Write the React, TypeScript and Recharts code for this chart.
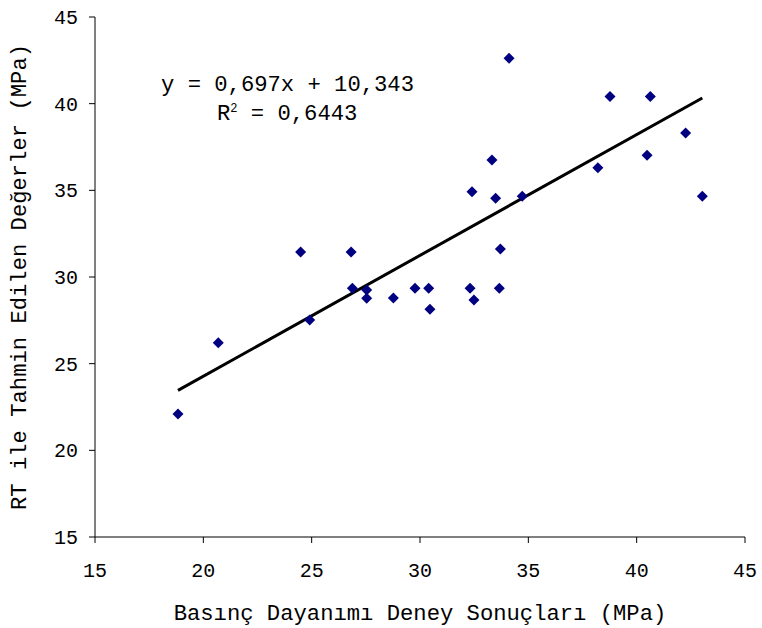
import React from "react";
import {
  ScatterChart,
  Scatter,
  XAxis,
  YAxis,
  ReferenceLine,
  Label,
} from "recharts";

// Measured values (MPa)
const DENEY = [
  18.83, 20.69, 24.49, 24.91, 26.82, 26.88, 27.54, 27.54, 28.77, 29.77, 30.4,
  30.46, 32.31, 32.49, 32.4, 33.32, 33.49, 33.66, 33.71, 34.11, 34.72, 38.21,
  38.77, 40.48, 40.63, 42.26, 43.03,
];
const TAHMIN = [
  22.1, 26.21, 31.44, 27.52, 31.44, 29.35, 29.25, 28.77, 28.79, 29.35, 29.35,
  28.14, 29.35, 28.67, 34.92, 36.75, 34.54, 29.35, 31.62, 42.62, 34.66, 36.31,
  40.42, 37.02, 40.42, 38.31, 34.66,
];
const TREND_X = [18.83, 43.03];
const TREND_Y = [23.46, 40.33];
const TICKS = [15, 20, 25, 30, 35, 40, 45];

const FONT = "'Liberation Mono', 'Courier New', monospace";
const TITLE_SIZE = 22.2;

const points = DENEY.map((x, i) => ({ x, y: TAHMIN[i] }));

const Diamond = (props: any) => {
  const { cx, cy } = props;
  const r = 5.5;
  return (
    <polygon
      points={`${cx},${cy - r} ${cx + r},${cy} ${cx},${cy + r} ${cx - r},${cy}`}
      fill="#000080"
    />
  );
};

// rotated y title, centred on the plot height
const YTitle = (props: any) => {
  const vb = props.viewBox || {};
  const cx = 20;
  const cy = (vb.y ?? 17) + (vb.height ?? 520) / 2;
  return (
    <text
      x={cx}
      y={cy}
      transform={`rotate(-90, ${cx}, ${cy})`}
      textAnchor="middle"
      dominantBaseline="central"
      fill="#000"
      fontSize={TITLE_SIZE}
      fontFamily={FONT}
    >
      RT ile Tahmin Edilen Değerler (MPa)
    </text>
  );
};

export default function App() {
  const tick = { fill: "#000", fontSize: 20, fontFamily: FONT };
  return (
    <div style={{ position: "absolute", left: 0, top: 0, width: 762, height: 628, background: "#fff" }}>
      <ScatterChart
        width={762}
        height={628}
        margin={{ top: 17, right: 17, bottom: 0, left: 0 }}
      >
        <XAxis
          type="number"
          dataKey="x"
          domain={[15, 45]}
          ticks={TICKS}
          height={91}
          tickSize={6}
          tickMargin={20}
          tick={tick}
          axisLine={{ stroke: "#000" }}
          tickLine={{ stroke: "#000" }}
          allowDataOverflow
        >
          <Label
            value="Basınç Dayanımı Deney Sonuçları (MPa)"
            position="insideBottom"
            offset={8}
            style={{ fill: "#000", fontSize: TITLE_SIZE, fontFamily: FONT }}
          />
        </XAxis>
        <YAxis
          type="number"
          dataKey="y"
          domain={[15, 45]}
          ticks={TICKS}
          width={95}
          tickSize={6}
          tickMargin={11}
          tick={tick}
          axisLine={{ stroke: "#000" }}
          tickLine={{ stroke: "#000" }}
          allowDataOverflow
        >
          <Label content={<YTitle />} />
        </YAxis>
        <ReferenceLine
          segment={[
            { x: TREND_X[0], y: TREND_Y[0] },
            { x: TREND_X[1], y: TREND_Y[1] },
          ]}
          stroke="#000"
          strokeWidth={3}
        />
        <Scatter data={points} shape={<Diamond />} isAnimationActive={false} />
      </ScatterChart>
      <div
        style={{
          position: "absolute",
          left: 161,
          top: 71,
          fontFamily: FONT,
          fontSize: TITLE_SIZE,
          lineHeight: "29px",
          color: "#000",
          whiteSpace: "pre",
        }}
      >
        <div>y = 0,697x + 10,343</div>
        <div style={{ paddingLeft: 56 }}>
          R<sup style={{ fontSize: 12, verticalAlign: "8px", lineHeight: 0 }}>2</sup> = 0,6443
        </div>
      </div>
    </div>
  );
}
